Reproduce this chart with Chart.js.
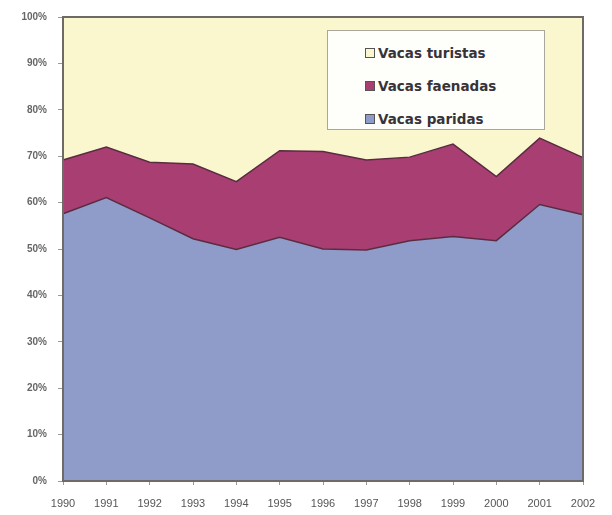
<!DOCTYPE html>
<html>
<head>
<meta charset="utf-8">
<script src="https://cdn.jsdelivr.net/npm/chart.js@4/dist/chart.umd.min.js"></script>
<style>
  body { margin: 0; background: #fff; }
  #wrap { position: relative; width: 612px; height: 515px; }
  #leyenda {
    position: absolute; left: 327px; top: 30px; width: 216px; height: 98px;
    background: #fefefb; border: 1px solid #aaa69a;
    font: bold 13.5px "DejaVu Sans", sans-serif; color: #383338;
  }
  #leyenda div { position: absolute; left: 37px; height: 16px; line-height: 16px; white-space: nowrap; }
  #leyenda span { display: inline-block; width: 8px; height: 8px; border: 1px solid #555; margin-right: 3px; vertical-align: 0px; }
</style>
</head>
<body>
<div id="wrap">
  <canvas id="grafico" width="612" height="515"></canvas>
  <div id="leyenda"></div>
</div>
<script>
const anios = ["1990", "1991", "1992", "1993", "1994", "1995", "1996", "1997", "1998", "1999", "2000", "2001", "2002"];

// porcentajes (100% apilado)
const vacasParidas   = [57.6, 61.1, 56.7, 52.2, 49.9, 52.5, 50.0, 49.8, 51.8, 52.7, 51.8, 59.6, 57.4];
const vacasFaenadas  = [11.6, 10.9, 12.0, 16.1, 14.6, 18.7, 21.0, 19.4, 18.0, 19.9, 13.8, 14.3, 12.3];
const vacasTuristas  = [30.8, 28.0, 31.3, 31.7, 35.5, 28.8, 29.0, 30.8, 30.2, 27.4, 34.4, 26.1, 30.3];

const ticksY = [0, 10, 20, 30, 40, 50, 60, 70, 80, 90, 100];

const series = [
  { label: "Vacas paridas", data: vacasParidas, color: "#8f9bc9", fill: "origin" },
  { label: "Vacas faenadas", data: vacasFaenadas, color: "#a93e73", fill: "-1" },
  { label: "Vacas turistas", data: vacasTuristas, color: "#faf6cd", fill: "-1" },
];

// marco del area de trazado
const marco = {
  id: "marco",
  afterDatasetsDraw(chart) {
    const a = chart.chartArea;
    const c = chart.ctx;
    c.save();
    c.strokeStyle = "#6e6a66";
    c.lineWidth = 2;
    c.strokeRect(a.left, a.top, a.right - a.left, a.bottom - a.top);
    c.restore();
  },
};

const ctx = document.querySelector("#grafico");

const config = {
  type: "line",
  data: {
    labels: anios,
    datasets: series.map((s) => ({
      label: s.label,
      data: s.data,
      backgroundColor: s.color,
      borderColor: "#5a2c42",
      borderWidth: 1.5,
      fill: s.fill,
      pointRadius: 0,
      tension: 0,
    })),
  },
  options: {
    responsive: false,
    animation: false,
    layout: { padding: { top: 16, right: 29, left: 0, bottom: 0 } },
    plugins: { legend: { display: false }, tooltip: { enabled: false } },
    scales: {
      x: {
        offset: false,
        grid: { drawOnChartArea: false, tickLength: 4, color: "#999" },
        border: { display: false },
        ticks: { color: "#555", font: { family: "Liberation Sans", size: 11 }, maxRotation: 0, autoSkip: false, padding: 12 },
        afterFit: (s) => { s.height = 34; },
      },
      y: {
        stacked: true,
        min: 0,
        max: 100,
        afterBuildTicks: (s) => { s.ticks = ticksY.map((v) => ({ value: v })); },
        grid: { drawOnChartArea: false, tickLength: 5, color: "#999" },
        border: { display: false },
        ticks: { color: "#666", font: { family: "Liberation Sans", size: 10, weight: "bold" }, padding: 11, callback: (v) => v + "%" },
        afterFit: (s) => { s.width = 63; },
      },
    },
  },
  plugins: [marco],
};

const grafico = new Chart(ctx, config);

// leyenda dentro del grafico
const leyenda = document.getElementById("leyenda");
series.slice().reverse().forEach((s, i) => {
  const item = document.createElement("div");
  item.style.top = (14 + i * 33) + "px";
  item.innerHTML = '<span style="background:' + s.color + '"></span>' + s.label;
  leyenda.appendChild(item);
});
</script>
</body>
</html>
